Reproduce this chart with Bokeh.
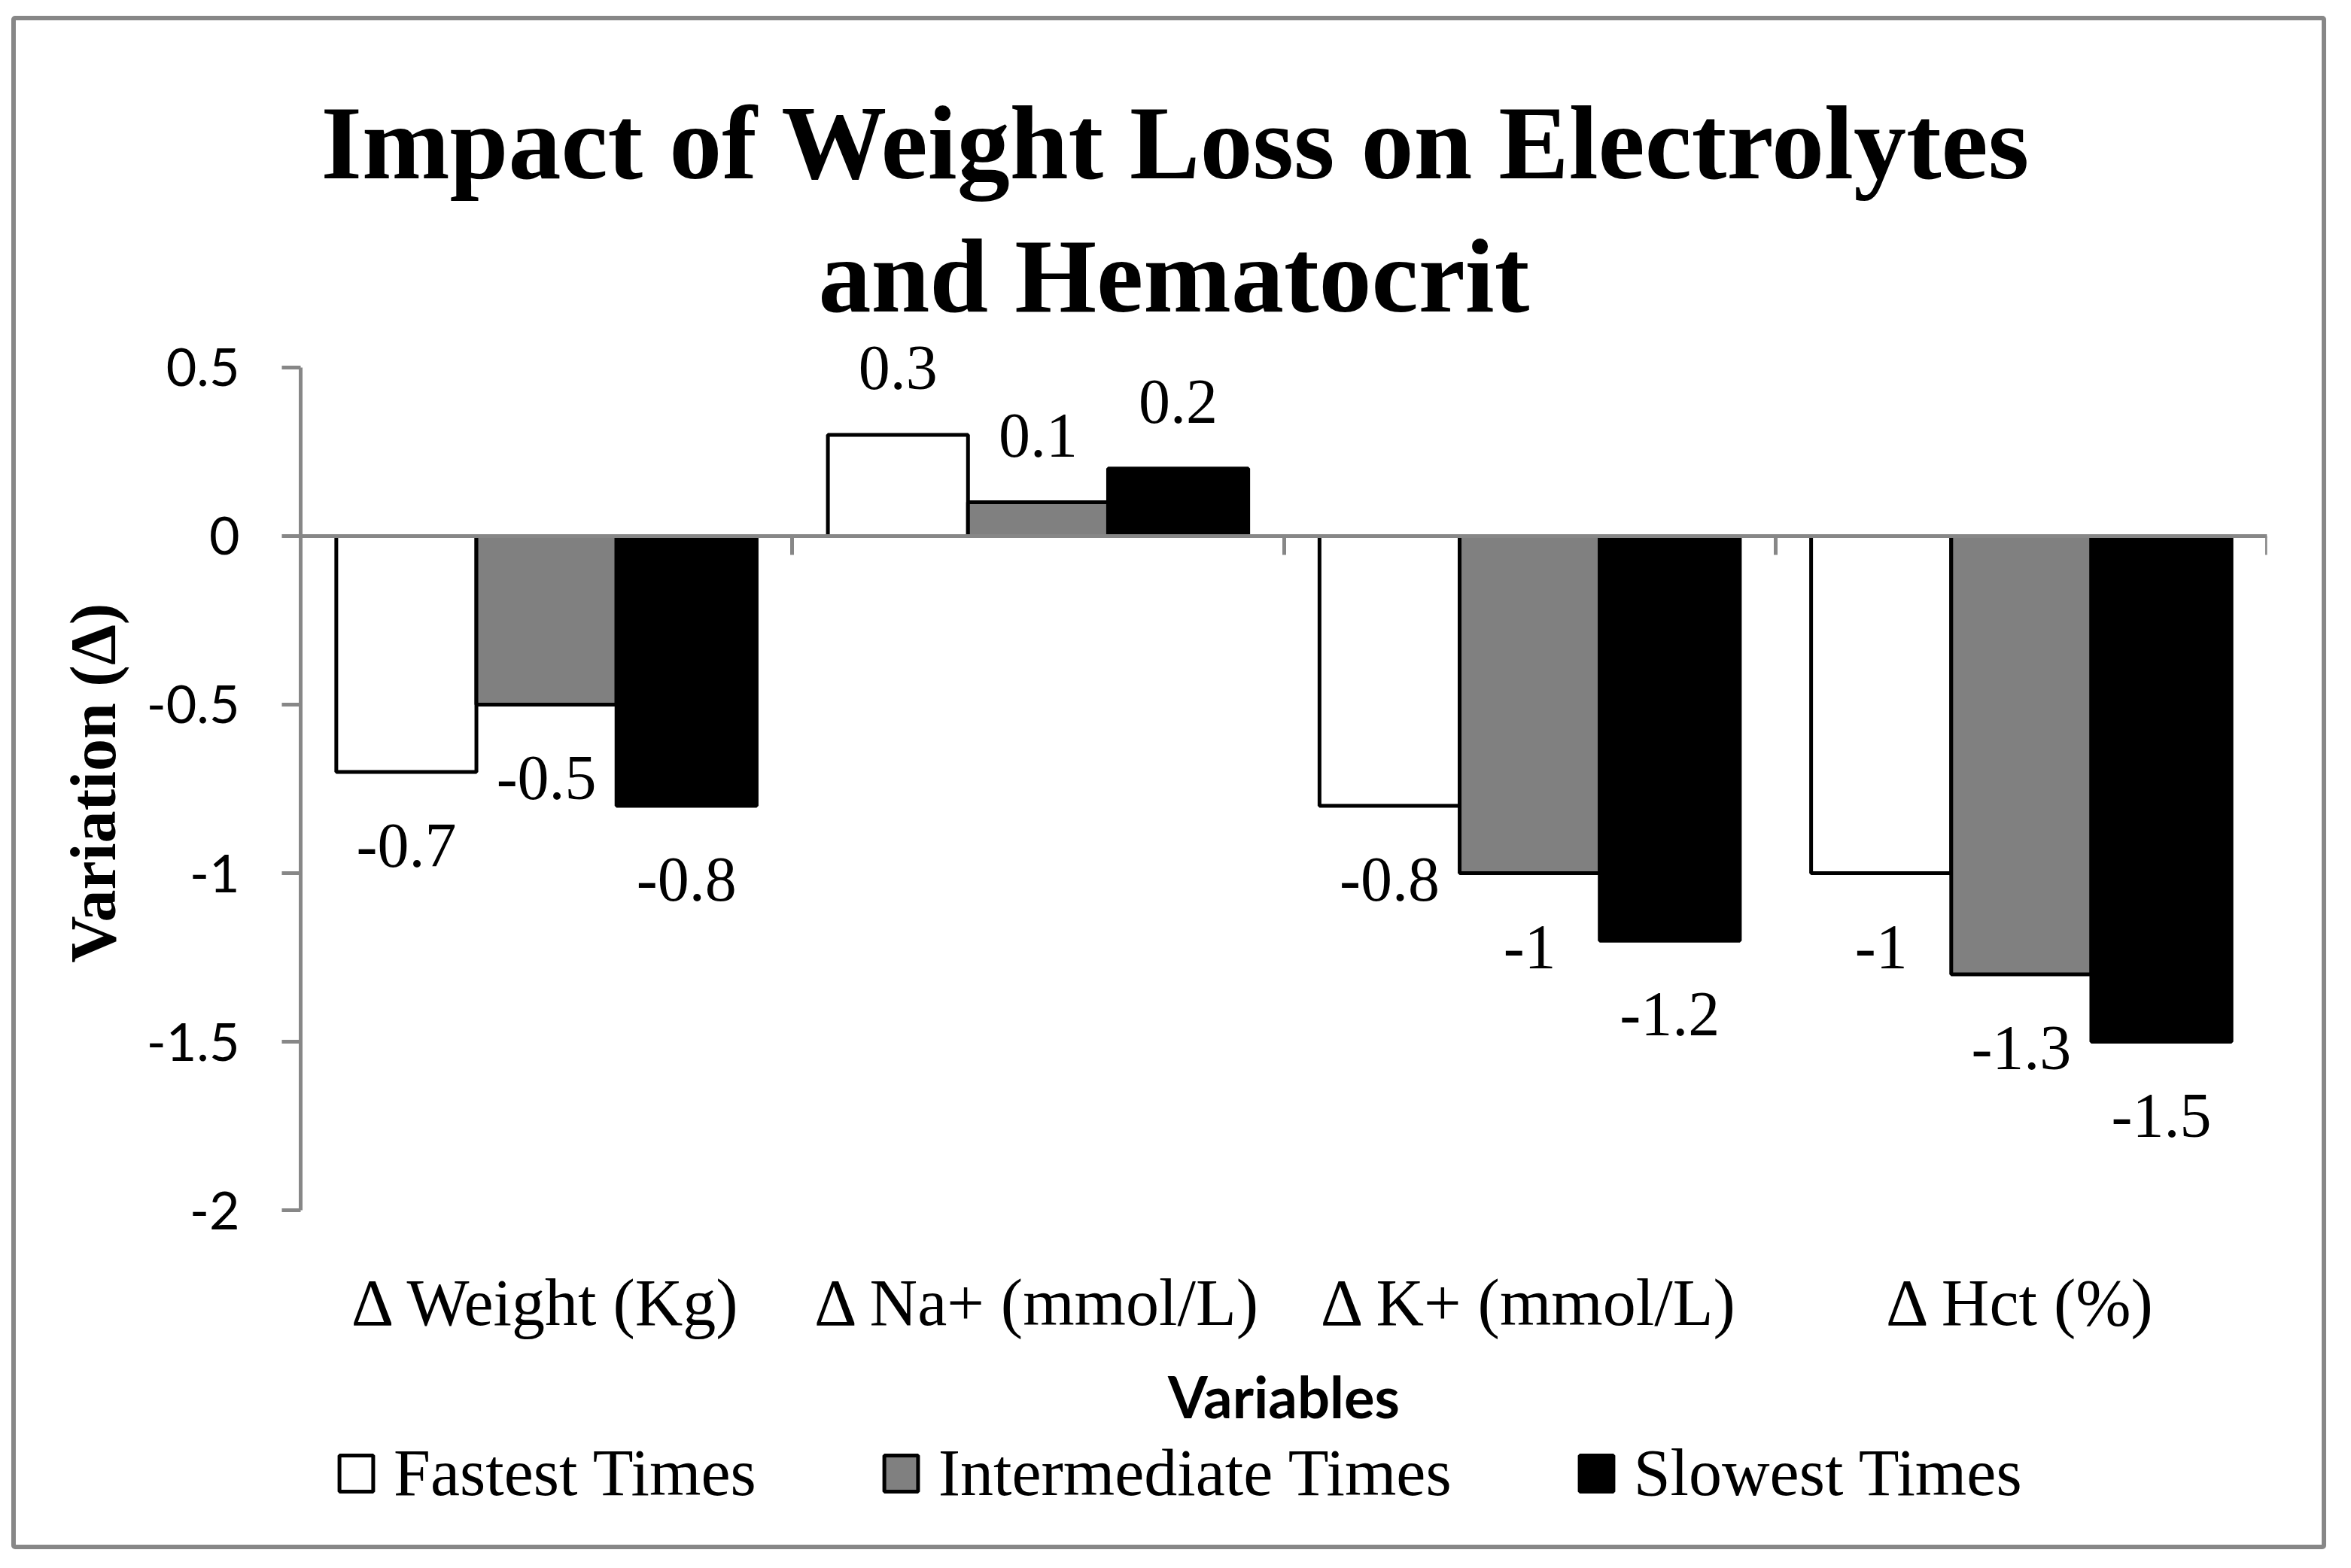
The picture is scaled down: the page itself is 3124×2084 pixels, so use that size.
from bokeh.plotting import figure
from bokeh.models import (ColumnDataSource, Range1d, LinearAxis, FixedTicker, LabelSet,
                          Legend, LegendItem, Title)
from bokeh.core.properties import field
from bokeh.embed import file_html
from bokeh.resources import INLINE

# ---------------- data ----------------
categories = ["Δ Weight (Kg)", "Δ Na+ (mmol/L)", "Δ K+ (mmol/L)", "Δ Hct (%)"]
series_names = ["Fastest Times", "Intermediate Times", "Slowest Times"]
fastest = [-0.7, 0.3, -0.8, -1.0]
intermediate = [-0.5, 0.1, -1.0, -1.3]
slowest = [-0.8, 0.2, -1.2, -1.5]
y_ticks = [0.5, 0, -0.5, -1, -1.5, -2]
y_tick_labels = ["0.5", "0", "-0.5", "-1", "-1.5", "-2"]
title_lines = ["Impact of Weight Loss on Electrolytes", "and Hematocrit"]
x_title = "Variables"
y_title = "Variation (Δ)"

# ---------------- style / layout ----------------
fills = ["white", "#808080", "black"]
AXIS_GRAY = "#878787"
SERIF = "Liberation Serif"
SANS = "Lato"
bar_w = 0.285
offsets = [-bar_w, 0.0, bar_w]
y_min, y_max = min(y_ticks), max(y_ticks)
# the frame reaches above the top tick (room for value labels) and below the
# bottom tick (room for category labels, axis title and legend)
view_top, view_bottom = 0.6, -2.997

W, H = 3064, 2026
p = figure(width=W, height=H, output_backend="svg", toolbar_location=None,
           x_range=Range1d(0, len(categories)), y_range=Range1d(view_bottom, view_top),
           x_axis_type=None, y_axis_type=None, title_location=None,
           min_border_left=378, min_border_right=85, min_border_top=416, min_border_bottom=10)
p.outline_line_color = None
p.background_fill_color = "white"
p.border_fill_color = "white"
p.grid.visible = False
p.styles = {"border": f"6px solid {AXIS_GRAY}", "border-radius": "5px",
            "margin-left": "15px", "margin-top": "21px", "box-sizing": "content-box"}

# title (two centred lines)
t2 = Title(text=title_lines[1], align="left", offset=688, standoff=0,
           text_font=SERIF, text_font_style="bold", text_font_size="140px", text_color="black")
t1 = Title(text=title_lines[0], align="left", offset=27, standoff=40,
           text_font=SERIF, text_font_style="bold", text_font_size="140px", text_color="black")
p.add_layout(t2, "above")
p.add_layout(t1, "above")

# bars + value labels
renderers = []
for vals, name, fc, off in zip([fastest, intermediate, slowest], series_names, fills, offsets):
    xs = [i + 0.5 + off for i in range(len(categories))]
    src = ColumnDataSource(dict(
        x=xs, top=vals,
        label=[f"{v:g}" for v in vals],
        yoff=[61 if v >= 0 else -126 for v in vals],
    ))
    r = p.vbar(x="x", top="top", bottom=0, width=bar_w, source=src,
               fill_color=fc, line_color="black", line_width=5)
    renderers.append(r)
    p.add_layout(LabelSet(x="x", y="top", text="label", y_offset=field("yoff"), source=src,
                          text_align="center", text_baseline="alphabetic",
                          text_font=SERIF, text_font_size="84px", text_color="black"))

# y axis (line only between the end ticks)
yaxis = LinearAxis(ticker=FixedTicker(ticks=y_ticks), bounds=(y_min, y_max),
                   major_label_overrides={t: l for t, l in zip(y_ticks, y_tick_labels)})
yaxis.axis_line_color = AXIS_GRAY
yaxis.axis_line_width = 5
yaxis.major_tick_line_color = AXIS_GRAY
yaxis.major_tick_line_width = 5
yaxis.major_tick_in = 0
yaxis.major_tick_out = 25
yaxis.minor_tick_line_color = None
yaxis.major_label_standoff = 56
yaxis.major_label_text_font = SANS
yaxis.major_label_text_font_size = "70px"
yaxis.major_label_text_color = "black"
p.add_layout(yaxis, "left")

# y axis title, centred on the tick span (not on the taller frame)
ytitle = Title(text=y_title, align="right", offset=358, vertical_align="bottom", standoff=40,
               text_font=SERIF, text_font_style="bold", text_font_size="86px", text_color="black")
p.add_layout(ytitle, "left")

# category label axis, anchored at the bottom tick value
cat_ticks = [i + 0.5 for i in range(len(categories))]
xaxis = LinearAxis(fixed_location=y_min, ticker=FixedTicker(ticks=cat_ticks),
                   major_label_overrides={t: c for t, c in zip(cat_ticks, categories)})
xaxis.axis_line_color = None
xaxis.major_tick_line_color = None
xaxis.major_tick_in = 0
xaxis.major_tick_out = 0
xaxis.minor_tick_line_color = None
xaxis.major_label_standoff = 74
xaxis.major_label_text_font = SERIF
xaxis.major_label_text_font_size = "88px"
xaxis.major_label_text_color = "black"
xaxis.axis_label = x_title
xaxis.axis_label_text_font = SANS
xaxis.axis_label_text_font_style = "bold"
xaxis.axis_label_text_font_size = "76px"
xaxis.axis_label_text_color = "black"
xaxis.axis_label_standoff = 27
p.add_layout(xaxis, "below")

# zero line axis with category boundary ticks
bounds = list(range(len(categories) + 1))
zaxis = LinearAxis(fixed_location=0, ticker=FixedTicker(ticks=bounds),
                   major_label_overrides={b: "" for b in bounds})
zaxis.axis_line_color = AXIS_GRAY
zaxis.axis_line_width = 5
zaxis.major_tick_line_color = AXIS_GRAY
zaxis.major_tick_line_width = 5
zaxis.major_tick_in = 0
zaxis.major_tick_out = 25
zaxis.minor_tick_line_color = None
zaxis.major_label_text_font_size = "10px"
p.add_layout(zaxis, "below")

# legend at the bottom of the chart
legend = Legend(items=[LegendItem(label=n, renderers=[r]) for n, r in zip(series_names, renderers)],
                location=(46, 47), orientation="horizontal",
                glyph_width=56, glyph_height=60, label_standoff=22, spacing=164,
                padding=0, margin=0, border_line_color=None, background_fill_alpha=0,
                label_text_font=SERIF, label_text_font_size="88px", label_text_color="black")
p.add_layout(legend, "center")

open("out.html", "w").write(file_html(p, INLINE))
